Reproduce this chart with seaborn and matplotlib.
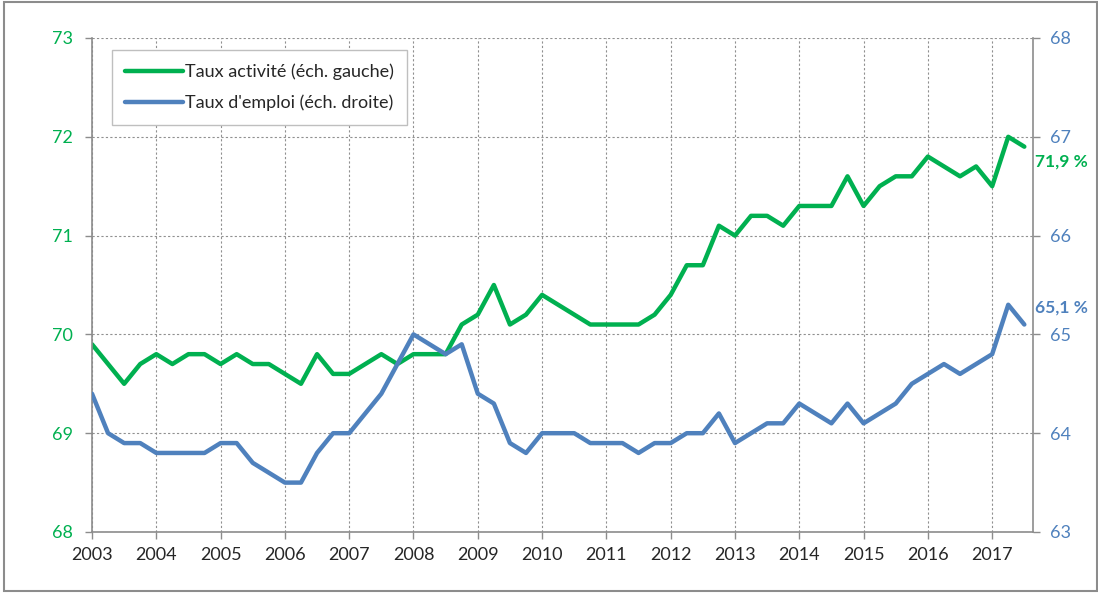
import pandas as pd
import matplotlib.pyplot as plt
import seaborn as sns

# Quarterly series, 2003Q1 .. 2017Q3
activite = [69.9, 69.7, 69.5, 69.7, 69.8, 69.7, 69.8, 69.8, 69.7, 69.8,
            69.7, 69.7, 69.6, 69.5, 69.8, 69.6, 69.6, 69.7, 69.8, 69.7,
            69.8, 69.8, 69.8, 70.1, 70.2, 70.5, 70.1, 70.2, 70.4, 70.3,
            70.2, 70.1, 70.1, 70.1, 70.1, 70.2, 70.4, 70.7, 70.7, 71.1,
            71.0, 71.2, 71.2, 71.1, 71.3, 71.3, 71.3, 71.6, 71.3, 71.5,
            71.6, 71.6, 71.8, 71.7, 71.6, 71.7, 71.5, 72.0, 71.9]
emploi = [64.4, 64.0, 63.9, 63.9, 63.8, 63.8, 63.8, 63.8, 63.9, 63.9,
          63.7, 63.6, 63.5, 63.5, 63.8, 64.0, 64.0, 64.2, 64.4, 64.7,
          65.0, 64.9, 64.8, 64.9, 64.4, 64.3, 63.9, 63.8, 64.0, 64.0,
          64.0, 63.9, 63.9, 63.9, 63.8, 63.9, 63.9, 64.0, 64.0, 64.2,
          63.9, 64.0, 64.1, 64.1, 64.3, 64.2, 64.1, 64.3, 64.1, 64.2,
          64.3, 64.5, 64.6, 64.7, 64.6, 64.7, 64.8, 65.3, 65.1]
years = list(range(2003, 2018))
label_act = "Taux activité (éch. gauche)"
label_emp = "Taux d'emploi (éch. droite)"

green = '#00B050'
blue = '#4F81BD'

df = pd.DataFrame({
    'date': [2003 + i / 4 for i in range(len(activite))],
    'activite': activite,
    'emploi': emploi,
})

sns.set_style('white')
plt.rcParams['font.family'] = ['Lato', 'DejaVu Sans']

fig = plt.figure(figsize=(10.98, 5.95), dpi=100)
ax = fig.add_axes([92 / 1098, 1 - 532 / 595, (1033 - 92) / 1098, (532 - 38) / 595])
ax2 = ax.twinx()

sns.lineplot(data=df, x='date', y='activite', ax=ax, color=green, lw=3.2, label=label_act, legend=False)
sns.lineplot(data=df, x='date', y='emploi', ax=ax2, color=blue, lw=3.2, label=label_emp, legend=False)

ax.set_xlim(2003, 2017.635)
ax.set_ylim(68, 73)
ax2.set_ylim(63, 68)
ax.set_xticks(years)
ax.set_xticklabels([str(y) for y in years])
ax.set_yticks(range(68, 74))
ax2.set_yticks(range(63, 69))

ax.grid(True, color='#909090', linestyle=(0, (2, 2)), lw=0.8)
ax.set_axisbelow(True)
ax.set_xlabel('')
ax.set_ylabel('')
ax2.set_ylabel('')

for a in (ax, ax2):
    for s in a.spines.values():
        s.set_visible(False)
ax.spines['left'].set_visible(True)
ax.spines['bottom'].set_visible(True)
ax2.spines['right'].set_visible(True)
for s in (ax.spines['left'], ax.spines['bottom'], ax2.spines['right']):
    s.set_color('#8c8c8c')
    s.set_linewidth(1.2)

ax.tick_params(axis='y', colors='#8c8c8c', labelcolor=green, labelsize=13,
               left=True, length=5, width=1, pad=9)
ax.tick_params(axis='x', colors='#8c8c8c', labelcolor='#262626', labelsize=13,
               bottom=True, length=5, width=1, pad=6)
ax2.tick_params(axis='y', colors='#8c8c8c', labelcolor=blue, labelsize=13,
                right=True, length=5, width=1, pad=7)

# end-of-series labels
ax.text(1.002, (71.75 - 68) / 5, '71,9 %', transform=ax.transAxes, color=green,
        fontsize=12.5, fontweight='bold', ha='left', va='center')
ax2.text(1.002, (65.27 - 63) / 5, '65,1 %', transform=ax2.transAxes, color=blue,
         fontsize=12.5, fontweight='bold', ha='left', va='center')

h1, l1 = ax.get_legend_handles_labels()
h2, l2 = ax2.get_legend_handles_labels()
leg = ax2.legend(h1 + h2, l1 + l2, loc='upper left', bbox_to_anchor=(0.021, 0.976),
                 borderaxespad=0, frameon=True, fancybox=False, edgecolor='#bfbfbf',
                 fontsize=13, handlelength=3.2, handletextpad=0.1, labelspacing=0.8,
                 borderpad=0.75, framealpha=1)
leg.get_frame().set_linewidth(1)

# outer chart border
fig.patches.append(plt.Rectangle((0.004, 0.006), 0.995, 0.99, transform=fig.transFigure,
                                 fill=False, edgecolor='#8c8c8c', lw=1.5))

fig.savefig('out.png', dpi=100)
